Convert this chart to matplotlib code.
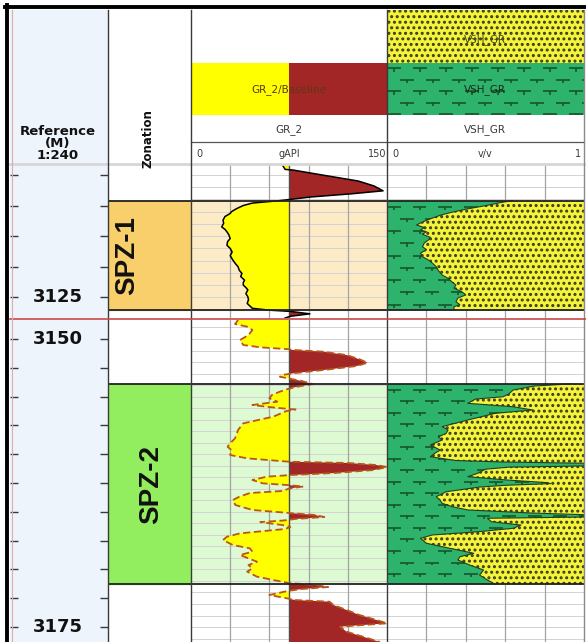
import numpy as np
import matplotlib.pyplot as plt
from matplotlib.patches import Rectangle, Polygon
from matplotlib.collections import LineCollection

W, H = 586, 642

# depth windows of the two log sections (m)
top_win = (3114.19, 3126.69)
bot_win = (3148.35, 3176.30)

zones = ['SPZ-1', 'SPZ-2']
zone_top = [3117.1, 3153.9]
zone_base = [3126.05, 3171.3]

gr_base = 75  # gAPI baseline

gr1_depth = [3114.19, 3114.55, 3114.60, 3115.00, 3115.50, 3115.90, 3116.30, 3116.55, 3116.80, 3117.10,
             3117.30, 3117.50, 3117.75, 3118.00, 3118.15, 3118.40, 3118.70, 3118.95, 3119.25, 3119.45,
             3119.65, 3119.90, 3120.20, 3120.45, 3120.75, 3121.00, 3121.30, 3121.60, 3121.95, 3122.25,
             3122.50, 3122.80, 3123.05, 3123.30, 3123.60, 3123.80, 3124.00, 3124.20, 3124.40, 3124.70,
             3124.95, 3125.20, 3125.50, 3125.70, 3125.90, 3126.05, 3126.15, 3126.35, 3126.55, 3126.69]
gr1 = [70, 72, 78, 100, 128, 140, 147, 122, 92, 68,
       47, 40, 35, 31, 30, 26, 24.5, 25, 23.5, 26,
       27.5, 29, 30, 28, 27.5, 30, 31.5, 30, 32, 34,
       36, 37, 39, 38, 41, 40, 40, 42, 43.5, 42,
       43.5, 44, 43, 45, 47, 60, 76, 91, 76, 72]

gr2_depth = [3148.35, 3148.70, 3148.93, 3149.22, 3149.65, 3150.09, 3150.52, 3150.72, 3150.89, 3150.95,
             3151.10, 3151.39, 3151.76, 3152.06, 3152.34, 3152.63, 3152.98, 3153.12, 3153.27, 3153.43,
             3153.65, 3153.91, 3154.17, 3154.34, 3154.57, 3154.85, 3155.15, 3155.44, 3155.73, 3155.88,
             3156.02, 3156.12, 3156.25, 3156.74, 3157.32, 3157.90, 3158.25, 3158.62, 3159.05, 3159.35,
             3159.64, 3160.07, 3160.36, 3160.65, 3160.76, 3160.94, 3161.11, 3161.37, 3161.63, 3161.81,
             3161.95, 3162.24, 3162.53, 3162.67, 3162.80, 3162.98, 3163.19, 3163.37, 3163.69, 3163.98,
             3164.41, 3164.84, 3165.10, 3165.28, 3165.45, 3165.62, 3165.76, 3165.89, 3166.15, 3166.32,
             3166.49, 3166.87, 3167.16, 3167.45, 3167.88, 3168.17, 3168.46, 3168.75, 3169.04, 3169.33,
             3169.62, 3169.90, 3170.19, 3170.63, 3170.92, 3171.18, 3171.35, 3171.53, 3171.70, 3171.87,
             3172.22, 3172.48, 3172.66, 3172.80, 3173.09, 3173.52, 3173.96, 3174.39, 3174.68, 3174.97,
             3175.40, 3175.84, 3176.30]
gr2 = [36, 33.7, 43, 47, 44, 37.5, 40, 53, 75, 78,
       101, 119, 129, 135, 127, 106, 78, 70, 68, 75,
       85, 93, 80, 74, 68, 62, 60, 66, 47, 58,
       70, 80, 73, 63, 40, 36, 35, 33.7, 30, 28,
       31, 30, 43, 75, 120, 142, 150, 140, 110, 76,
       58, 47, 55, 73, 86, 75, 70, 45, 37, 32,
       34, 47, 75, 95, 102, 80, 70, 53, 70, 76,
       72, 37.5, 27.5, 24.5, 32, 45, 47, 37.5, 44, 50.5,
       44, 47, 43, 50.5, 63, 75, 95, 105, 85, 74,
       60, 72, 80, 106, 109, 119, 129, 142, 150, 114,
       119, 131.6, 144.6]

vsh1_depth = [3117.10, 3117.25, 3117.45, 3117.60, 3117.80, 3118.05, 3118.25, 3118.41, 3118.65, 3118.85,
              3119.09, 3119.30, 3119.50, 3119.64, 3119.85, 3120.10, 3120.32, 3120.55, 3120.87, 3121.10,
              3121.40, 3121.68, 3121.95, 3122.20, 3122.50, 3122.80, 3123.18, 3123.45, 3123.75, 3124.00,
              3124.25, 3124.55, 3124.81, 3125.05, 3125.36, 3125.60, 3125.77, 3126.05]
vsh1 = [0.64, 0.58, 0.52, 0.47, 0.40, 0.33, 0.28, 0.25, 0.21, 0.18,
        0.15, 0.19, 0.17, 0.20, 0.18, 0.22, 0.21, 0.19, 0.18, 0.20,
        0.17, 0.18, 0.21, 0.23, 0.25, 0.26, 0.28, 0.31, 0.33, 0.35,
        0.34, 0.38, 0.40, 0.36, 0.35, 0.37, 0.34, 0.34]

vsh2_depth = [3153.90, 3154.08, 3154.43, 3154.75, 3155.01, 3155.21, 3155.58, 3155.88, 3156.16, 3156.45,
              3157.03, 3157.30, 3157.61, 3157.90, 3158.19, 3158.50, 3158.77, 3159.20, 3159.64, 3159.95,
              3160.22, 3160.55, 3160.68, 3160.78, 3161.02, 3161.12, 3161.30, 3161.66, 3161.95, 3162.24,
              3162.45, 3162.55, 3162.70, 3162.85, 3163.26, 3163.69, 3164.00, 3164.26, 3164.55, 3164.84,
              3165.10, 3165.25, 3165.45, 3165.56, 3165.86, 3166.15, 3166.43, 3166.72, 3167.01, 3167.30,
              3167.73, 3168.17, 3168.60, 3168.90, 3169.18, 3169.62, 3170.05, 3170.49, 3170.92, 3171.30]
vsh2 = [0.93, 0.75, 0.64, 0.62, 0.59, 0.45, 0.41, 0.64, 0.74, 0.55,
        0.41, 0.35, 0.28, 0.31, 0.30, 0.26, 0.28, 0.22, 0.27, 0.24,
        0.22, 0.35, 0.60, 1.0, 1.0, 0.62, 0.50, 0.46, 0.41, 0.61,
        0.80, 0.83, 0.60, 0.47, 0.30, 0.25, 0.27, 0.28, 0.33, 0.41,
        0.73, 1.0, 1.0, 0.51, 0.53, 0.68, 0.64, 0.47, 0.23, 0.17,
        0.20, 0.32, 0.44, 0.37, 0.36, 0.42, 0.49, 0.47, 0.51, 0.55]

YELLOW = '#FFFF00'
RED = '#A32626'
SHALE = '#2EB36C'
SHALE_MARK = '#17552A'
SAND = '#F4F43C'
REF_BG = '#EEF4FB'
zone_fill = ['#F9CF6C', '#92EE5E']
zone_shade = ['#FDEBC8', '#DDFAD2']
zone_label_x = [0.24, 0.52]

plt.rcParams['hatch.linewidth'] = 1.4


def box(x0, y0, x1, y1):
    return [x0 / W, 1 - y1 / H, (x1 - x0) / W, (y1 - y0) / H]


def bare(ax):
    ax.set_xticks([])
    ax.set_yticks([])
    for s in ax.spines.values():
        s.set_visible(False)


def shale_segments(x0, x1, y0, y1, dx, dy, dash, tick):
    # dash with a small downward tick in the middle, staggered rows
    segs = []
    row = 0
    y = y0
    while y <= y1:
        x = x0 - dx + (dx / 2) * (row % 2)
        while x <= x1:
            segs.append([(x, y), (x + dash, y)])
            segs.append([(x + dash / 2, y), (x + dash / 2, y + tick)])
            x += dx
        y += dy
        row += 1
    return segs


fig = plt.figure(figsize=(W / 100, H / 100), dpi=100)

sections = [
    dict(y0=165, y1=318, win=top_win, z=0, gd=gr1_depth, g=gr1, vd=vsh1_depth, v=vsh1,
         line=dict(color='black', lw=1.1)),
    dict(y0=320, y1=642, win=bot_win, z=1, gd=gr2_depth, g=gr2, vd=vsh2_depth, v=vsh2,
         line=dict(color='#B8561A', lw=1.3, ls=(0, (4, 2)))),
]

for sec in sections:
    top, bot = sec['win']
    zt, zb = zone_top[sec['z']], zone_base[sec['z']]
    hlines = np.arange(np.ceil(top), bot)

    # depth reference
    ax = fig.add_axes(box(10, sec['y0'], 107.5, sec['y1']))
    ax.set_facecolor(REF_BG)
    ax.set_ylim(bot, top)
    ax.set_xticks([])
    ticks = np.arange(np.ceil(top / 2.5) * 2.5, bot, 2.5)
    ax.set_yticks(ticks)
    ax.tick_params(axis='y', direction='in', length=6, width=1, color='#3a3a3a',
                   left=True, right=True, labelleft=False)
    for s in ax.spines.values():
        s.set_visible(False)
    for d in ticks:
        if d % 25 == 0:
            ax.text(0.49, d, f'{d:.0f}', transform=ax.get_yaxis_transform(),
                    ha='center', va='center', fontsize=13, fontweight='bold', color='#111111')

    # zonation
    ax = fig.add_axes(box(107.5, sec['y0'], 191, sec['y1']))
    ax.set_ylim(bot, top)
    ax.set_xlim(0, 1)
    bare(ax)
    ax.axhspan(zt, zb, color=zone_fill[sec['z']], zorder=0)
    ax.text(zone_label_x[sec['z']], (zt + zb) / 2, zones[sec['z']], rotation=90,
            ha='center', va='center', fontsize=20, fontweight='bold',
            family='Liberation Sans', color='#111111')
    for d in (zt, zb):
        ax.axhline(d, color='#222222', lw=1.3, zorder=5)

    # gamma ray
    ax = fig.add_axes(box(191, sec['y0'], 387, sec['y1']))
    ax.set_xlim(0, 150)
    ax.set_ylim(bot, top)
    bare(ax)
    ax.axhspan(zt, zb, color=zone_shade[sec['z']], zorder=0)
    for d in hlines:
        ax.axhline(d, color='#d2d2d2', lw=0.7, zorder=0.5)
    for v in (30, 60, 90, 120):
        ax.axvline(v, color='#a4a4a4', lw=0.9, zorder=1)
    gd = np.array(sec['gd'])
    g = np.array(sec['g'])
    ax.fill_betweenx(gd, g, gr_base, where=g <= gr_base, interpolate=True,
                     color=YELLOW, lw=0, zorder=2)
    ax.fill_betweenx(gd, g, gr_base, where=g >= gr_base, interpolate=True,
                     color=RED, lw=0, zorder=2)
    ax.axvline(gr_base, color='#4a4a4a', lw=1, zorder=3)
    ax.plot(g, gd, zorder=4, **sec['line'])
    for d in (zt, zb):
        ax.axhline(d, color='#222222', lw=1.3, zorder=5)

    # shale volume
    ax = fig.add_axes(box(387, sec['y0'], 584, sec['y1']))
    ax.set_xlim(0, 1)
    ax.set_ylim(bot, top)
    bare(ax)
    for d in hlines:
        ax.axhline(d, color='#d2d2d2', lw=0.7, zorder=0.5)
    for v in (0.2, 0.4, 0.6, 0.8):
        ax.axvline(v, color='#a4a4a4', lw=0.9, zorder=1)
    vd = sec['vd']
    v = sec['v']
    edge = list(zip(v, vd))
    shale = Polygon([(0, vd[0])] + edge + [(0, vd[-1])], closed=True,
                    fc=SHALE, lw=0, zorder=2)
    sand = Polygon([(1, vd[0])] + edge + [(1, vd[-1])], closed=True,
                   fc=SAND, ec='#3a3a18', lw=0, hatch='...', zorder=2)
    ax.add_patch(shale)
    ax.add_patch(sand)
    marks = LineCollection(shale_segments(0, 1, zt + 0.5, zb, 0.13, 1.0, 0.07, 0.25),
                           colors=SHALE_MARK, linewidths=1.2, zorder=3)
    ax.add_collection(marks)
    marks.set_clip_path(shale)
    ax.plot(v, vd, color='#1d3d1d', lw=0.8, zorder=4)
    for d in (zt, zb):
        ax.axhline(d, color='#222222', lw=1.3, zorder=5)

# header and frame, drawn in pixel units
ax = fig.add_axes([0, 0, 1, 1])
ax.set_xlim(0, W)
ax.set_ylim(H, 0)
ax.axis('off')
ax.set_zorder(10)

ax.add_patch(Rectangle((10, 10), 97.5, 155, color=REF_BG, lw=0))
ax.text(58, 143.5, 'Reference\n(M)\n1:240', ha='center', va='center', fontsize=9.5,
        fontweight='bold', color='#111111', linespacing=0.92)
ax.text(148, 139, 'Zonation', rotation=90, ha='center', va='center', fontsize=8.5,
        fontweight='bold', color='#111111')

ax.add_patch(Rectangle((191, 63), 98, 52, color=YELLOW, lw=0))
ax.add_patch(Rectangle((289, 63), 98, 52, color=RED, lw=0))
ax.text(289, 90, 'GR_2/Baseline', ha='center', va='center', fontsize=7.5, color='#5a3a10')
ax.text(289, 130, 'GR_2', ha='center', va='center', fontsize=7.5, color='#3a3a3a')
ax.text(199, 154, '0', ha='center', va='center', fontsize=7, color='#3a3a3a')
ax.text(289, 154, 'gAPI', ha='center', va='center', fontsize=7, color='#3a3a3a')
ax.text(377, 154, '150', ha='center', va='center', fontsize=7, color='#3a3a3a')

ax.add_patch(Rectangle((387, 10), 197, 53, fc=SAND, ec='#3a3a18', lw=0, hatch='...'))
hdr_shale = Rectangle((387, 63), 197, 52, fc=SHALE, lw=0)
ax.add_patch(hdr_shale)
hdr_marks = LineCollection(shale_segments(387, 584, 68, 115, 26, 11.5, 14, 3.5),
                           colors=SHALE_MARK, linewidths=1.2)
ax.add_collection(hdr_marks)
hdr_marks.set_clip_path(hdr_shale)
ax.text(485, 40, 'VSH_GR', ha='center', va='center', fontsize=7.5, color='#4a4a20')
ax.text(485, 90, 'VSH_GR', ha='center', va='center', fontsize=7.5, color='#1a2a1a')
ax.text(485, 130, 'VSH_GR', ha='center', va='center', fontsize=7.5, color='#3a3a3a')
ax.text(395, 154, '0', ha='center', va='center', fontsize=7, color='#3a3a3a')
ax.text(485, 154, 'v/v', ha='center', va='center', fontsize=7, color='#3a3a3a')
ax.text(578, 154, '1', ha='center', va='center', fontsize=7, color='#3a3a3a')

# header rules
ax.plot([191, 584], [142, 142], color='#555555', lw=0.9)
ax.plot([10, 584], [164, 164], color='#d6d6d6', lw=2)

# track dividers
for x, c in ((107.5, '#3a3a3a'), (191, '#3a3a3a'), (387, '#3a3a3a'), (584, '#8a8a8a')):
    ax.plot([x, x], [10, H], color=c, lw=1)

# section break and frame
ax.plot([10, W], [319, 319], color='#C84848', lw=1.2)
ax.plot([11.5, 11.5], [10, H], color='#E4AAAA', lw=0.8)
ax.plot([7, 7], [5, H], color='black', lw=2.8)
ax.plot([5, W], [7, 7], color='black', lw=2.8)

fig.savefig('out.png', dpi=100)
